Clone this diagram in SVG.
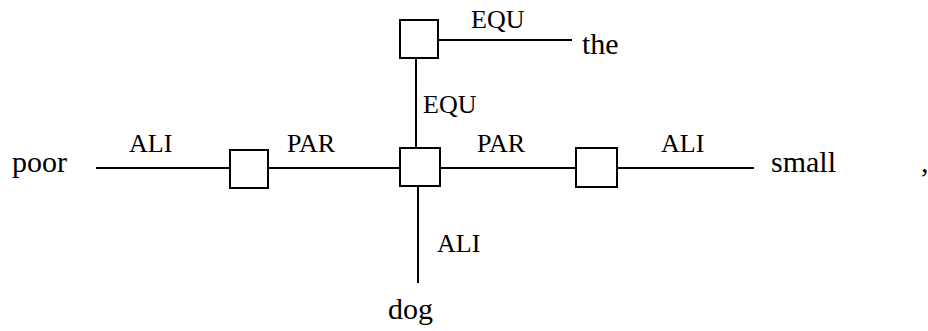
<svg xmlns="http://www.w3.org/2000/svg" width="928" height="331" viewBox="0 0 928 331">
<style>
.box{fill:#fff;stroke:#000;stroke-width:2}
.ln{stroke:#000;stroke-width:2;fill:none}
.w{font-family:'Liberation Serif','Times New Roman',serif;font-size:30px;fill:#000}
.l{font-family:'Liberation Serif','Times New Roman',serif;font-size:26px;fill:#000}
</style>
<rect width="928" height="331" fill="#fff"/>
<g id="connectors">
<line class="ln" x1="96" y1="168" x2="230" y2="168"/>
<line class="ln" x1="264" y1="168" x2="400" y2="168"/>
<line class="ln" x1="440" y1="168" x2="576" y2="168"/>
<line class="ln" x1="618" y1="168" x2="754" y2="168"/>
<line class="ln" x1="416" y1="58" x2="416" y2="148"/>
<line class="ln" x1="438" y1="40" x2="572" y2="40"/>
<line class="ln" x1="418" y1="186" x2="418" y2="283"/>
<text class="l" x="129" y="152">ALI</text>
<text class="l" x="287" y="152">PAR</text>
<text class="l" x="477" y="152">PAR</text>
<text class="l" x="661" y="152">ALI</text>
<text class="l" x="423" y="113">EQU</text>
<text class="l" x="471" y="28">EQU</text>
<text class="l" x="437" y="252">ALI</text>
</g>
<g id="node-poor"><text class="w" x="12" y="172">poor</text></g>
<g id="node-left"><rect class="box" x="230" y="150" width="38" height="38"/></g>
<g id="node-center"><rect class="box" x="400" y="148" width="40" height="38"/></g>
<g id="node-top"><rect class="box" x="400" y="20" width="38" height="38"/></g>
<g id="node-right"><rect class="box" x="576" y="148" width="41" height="39"/></g>
<g id="node-the"><text class="w" x="582" y="54">the</text></g>
<g id="node-small"><text class="w" x="771" y="172">small</text></g>
<g id="node-dog"><text class="w" x="388" y="319">dog</text></g>
<g id="node-comma"><text class="w" x="921" y="172">,</text></g>
</svg>
